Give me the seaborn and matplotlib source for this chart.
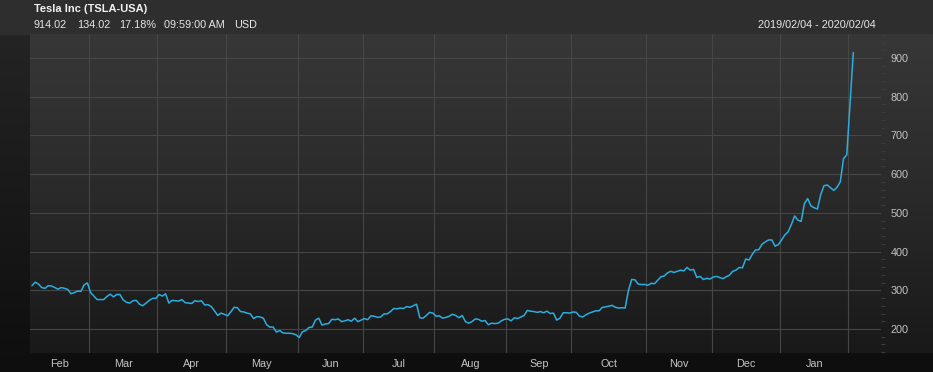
import numpy as np
import pandas as pd
import matplotlib
matplotlib.use("Agg")
import matplotlib.pyplot as plt
import seaborn as sns
from matplotlib.colors import LinearSegmentedColormap
from matplotlib.patches import Rectangle
from matplotlib.ticker import MultipleLocator

# ---------------- data ----------------
title = "Tesla Inc (TSLA-USA)"
quote_fields = ["914.02", "134.02", "17.18%", "09:59:00 AM", "USD"]
date_range_label = "2019/02/04 - 2020/02/04"

holidays = ["2019-02-18", "2019-04-19", "2019-05-27", "2019-07-04", "2019-09-02",
            "2019-11-28", "2019-12-25", "2020-01-01", "2020-01-20"]

prices_feb19 = [312, 321, 316, 307, 305, 312, 311, 307, 303, 307, 305, 302, 291, 294,
                298, 297, 314, 319]
prices_mar19 = [294, 285, 276, 276, 276, 284, 290, 283, 289, 289, 275, 269, 267, 273,
                274, 264, 260, 267, 274, 279, 279]
prices_apr19 = [289, 285, 291, 267, 274, 273, 272, 276, 268, 267, 266, 273, 271, 273,
                262, 263, 258, 247, 235, 241, 238]
prices_may19 = [234, 244, 256, 255, 245, 244, 241, 239, 227, 232, 231, 228, 211, 205,
                205, 192, 196, 190, 189, 189, 188, 185]
prices_jun19 = [178, 193, 196, 204, 205, 223, 228, 210, 213, 214, 225, 224, 226, 219,
                221, 224, 220, 228, 219, 223]
prices_jul19 = [227, 224, 234, 233, 230, 231, 239, 239, 245, 253, 252, 254, 253, 258,
                256, 260, 264, 229, 228, 235, 243, 241]
prices_aug19 = [233, 234, 228, 230, 233, 238, 235, 229, 235, 219, 215, 219, 226, 225,
                220, 222, 211, 215, 214, 215, 221, 225]
prices_sep19 = [226, 221, 229, 227, 231, 235, 248, 246, 245, 243, 245, 242, 246, 240,
                241, 223, 228, 242, 242, 241]
prices_oct19 = [244, 243, 233, 231, 237, 241, 244, 247, 247, 256, 257, 259, 261, 256,
                254, 255, 254, 299, 328, 327, 316, 315, 315]
prices_nov19 = [313, 318, 317, 326, 335, 337, 345, 349, 346, 349, 352, 350, 359, 352,
                354, 333, 336, 328, 331, 329]
prices_dec19 = [334, 336, 333, 330, 335, 339, 349, 352, 359, 358, 381, 378, 393, 404,
                405, 419, 425, 430, 430, 414, 418]
prices_jan20 = [430, 443, 451, 470, 492, 481, 478, 524, 537, 518, 513, 510, 547, 570,
                572, 565, 558, 566, 580, 640, 650]
prices_feb20 = [780, 914]

month_labels = ["Feb", "Mar", "Apr", "May", "Jun", "Jul", "Aug", "Sep", "Oct", "Nov",
                "Dec", "Jan"]
y_ticks = [200, 300, 400, 500, 600, 700, 800, 900]

prices = (prices_feb19 + prices_mar19 + prices_apr19 + prices_may19 + prices_jun19 +
          prices_jul19 + prices_aug19 + prices_sep19 + prices_oct19 + prices_nov19 +
          prices_dec19 + prices_jan20 + prices_feb20)

dates = pd.bdate_range("2019-02-04", "2020-02-04")
dates = dates[~dates.isin(pd.to_datetime(holidays))]
df = pd.DataFrame({"date": dates[:len(prices)], "price": prices})
df["idx"] = np.arange(len(df))

# month boundaries (trading-day index)
m = df["date"].dt.to_period("M")
bounds = [i - 0.5 for i in range(1, len(df)) if m.iloc[i] != m.iloc[i - 1]]

XMIN, XMAX = -0.6, 260.5
YMIN, YMAX = 138, 962
edges = [XMIN] + bounds
mids = [(edges[i] + edges[i + 1]) / 2 for i in range(len(month_labels))]

# ---------------- figure ----------------
sns.set_style("dark")
plt.rcParams["font.family"] = ["Liberation Sans", "DejaVu Sans"]

W, H = 933, 372
fig = plt.figure(figsize=(W / 100, H / 100), dpi=100)
fig.patch.set_facecolor("#121212")


def fx(px):
    return px / W


def fy(py):
    return 1 - py / H


# full-figure background
bg = fig.add_axes([0, 0, 1, 1], zorder=0)
bg.set_xlim(0, 1)
bg.set_ylim(0, 1)
bg.axis("off")
grad_cmap = LinearSegmentedColormap.from_list("g", ["#0e0e0e", "#262626"])
bg.imshow(np.linspace(0, 1, 256).reshape(-1, 1), extent=[0, 1, 0, 1], origin="lower",
          aspect="auto", cmap=grad_cmap, zorder=0)
# header band
bg.add_patch(Rectangle((0, fy(34)), 1, 34 / H, color="#2e2e2e", zorder=1))
# gradient for plot + right axis area
pg_cmap = LinearSegmentedColormap.from_list("p", ["#191919", "#2a2a2a", "#373737"])
bg.imshow(np.linspace(0, 1, 256).reshape(-1, 1),
          extent=[fx(30), 1, fy(353), fy(34)], origin="lower",
          aspect="auto", cmap=pg_cmap, zorder=1)
bg.set_xlim(0, 1)
bg.set_ylim(0, 1)

ax = fig.add_axes([fx(30), fy(353), fx(881) - fx(30), (353 - 34) / H], zorder=2)
ax.patch.set_alpha(0)

sns.lineplot(data=df, x="idx", y="price", ax=ax, color="#2aaee0", linewidth=1.1)

ax.set_xlim(XMIN, XMAX)
ax.set_ylim(YMIN, YMAX)
ax.set_xlabel("")
ax.set_ylabel("")

ax.set_xticks(bounds)
ax.set_xticklabels([])
ax.set_xticks(mids, minor=True)
ax.set_xticklabels(month_labels, minor=True)

ax.yaxis.tick_right()
ax.set_yticks(y_ticks)
ax.set_yticklabels([str(v) for v in y_ticks])
ax.yaxis.set_minor_locator(MultipleLocator(20))

ax.tick_params(axis="x", which="both", length=0, labelsize=7.8, labelcolor="#c4c4c4",
               pad=4)
ax.tick_params(axis="y", which="major", length=0, labelsize=7.8, labelcolor="#c4c4c4",
               pad=7)
ax.tick_params(axis="y", which="minor", length=3, color="#3c3c3c", width=0.8,
               direction="out")

ax.grid(True, which="major", color="#464646", linewidth=0.8)
ax.grid(False, which="minor")
for s in ax.spines.values():
    s.set_visible(False)

# header texts
fig.text(fx(34), fy(9.5), title, color="#f0f0f0", fontsize=8, fontweight="bold",
         va="center", ha="left")
xs = [34, 77, 119, 164, 234]
for x, t in zip(xs, quote_fields):
    fig.text(fx(x), fy(25), t, color="#e6e6e6", fontsize=7.8, va="center", ha="left")
fig.text(fx(876), fy(25), date_range_label, color="#e6e6e6", fontsize=7.8,
         va="center", ha="right")

fig.savefig("out.png", dpi=100, facecolor=fig.get_facecolor())
